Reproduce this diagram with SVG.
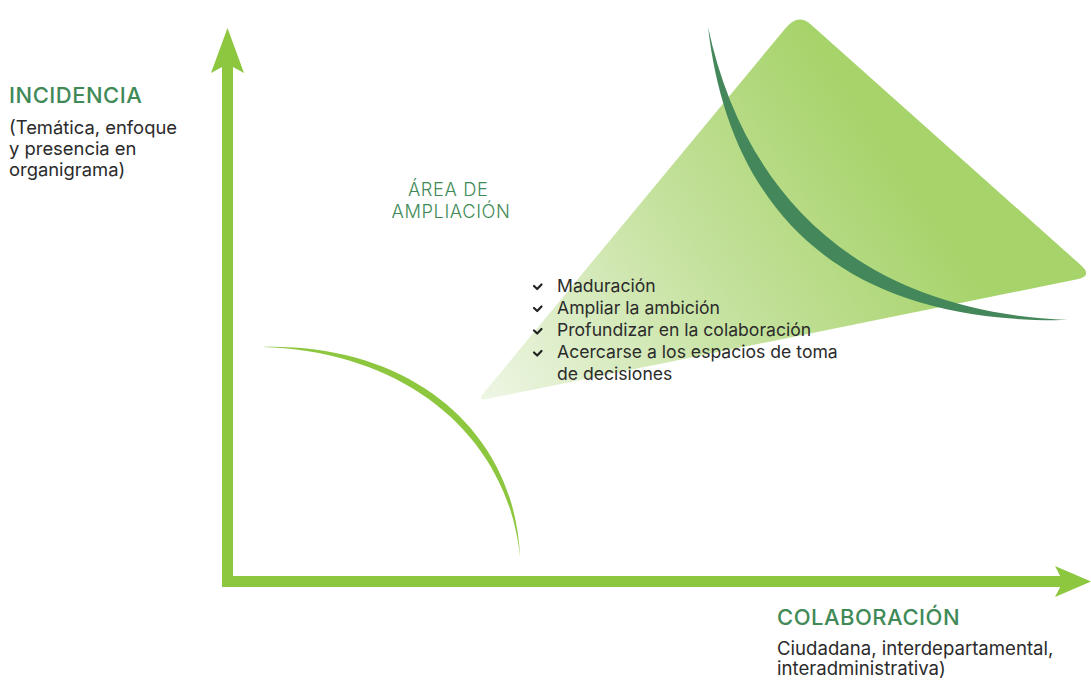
<svg xmlns="http://www.w3.org/2000/svg" width="1091" height="680" viewBox="0 0 1091 680">
  <defs>
    <linearGradient id="triGrad" gradientUnits="userSpaceOnUse" x1="480" y1="400" x2="880" y2="130">
      <stop offset="0" stop-color="#eef6e5"/>
      <stop offset="0.55" stop-color="#c4e19c"/>
      <stop offset="1" stop-color="#a6d36a"/>
    </linearGradient>
    <style>
      .title { font-family: Inter, "Liberation Sans", sans-serif; fill: #3f8a57; font-weight: 500; letter-spacing: 0.5px; }
      .body { font-family: Inter, "Liberation Sans", sans-serif; fill: #2b2b2b; }
      .area { font-family: Inter, "Liberation Sans", sans-serif; fill: #3f8a57; font-weight: 300; letter-spacing: 0.6px; }
      .axis { fill: #8dc63f; }
      .check { fill: none; stroke: #222; stroke-width: 2.2; stroke-linecap: round; stroke-linejoin: round; }
    </style>
  </defs>

  <g id="ampliacion-area">
    <path d="M785.3,28.4 Q798,13 810.9,24.5 L1081,265.3 Q1093,276 1077.3,279.2 L486.8,399 Q477,401 483.4,393.3 Z" fill="url(#triGrad)"/>
  </g>

  <g id="dark-arc">
    <path d="M708,27 C728,200 830,325 1068,320 C848,311 742,185 708,27 Z" fill="#44875a"/>
  </g>

  <g id="light-arc">
    <path d="M262,347 C410,343 515,430 520,557 C508,435 405,351 262,347 Z" fill="#8dc63f"/>
  </g>

  <g id="connectors">
    <rect class="axis" x="222" y="60" width="11" height="527"/>
    <polygon class="axis" points="227.5,28 244,73 227.5,64 211,73"/>
    <rect class="axis" x="222" y="576" width="843" height="11"/>
    <polygon class="axis" points="1091,581.5 1055,566 1063,581.5 1055,597"/>
  </g>

  <g id="label-incidencia">
    <text class="title" x="9" y="103" font-size="22">INCIDENCIA</text>
    <text class="body" font-size="18.4">
      <tspan x="9" y="134">(Temática, enfoque</tspan>
      <tspan x="9" y="155">y presencia en</tspan>
      <tspan x="9" y="176">organigrama)</tspan>
    </text>
  </g>

  <g id="label-area">
    <text class="area" text-anchor="middle" font-size="18.3">
      <tspan x="451" y="195.5">ÁREA DE</tspan>
      <tspan x="451" y="217.5">AMPLIACIÓN</tspan>
    </text>
  </g>

  <g id="checklist">
    <path class="check" d="M534,286 L537.2,289 L541.5,284.5"/>
    <path class="check" d="M534,308 L537.2,311 L541.5,306.5"/>
    <path class="check" d="M534,330.5 L537.2,333.5 L541.5,329"/>
    <path class="check" d="M534,352.5 L537.2,355.5 L541.5,351"/>
    <text class="body" font-size="17.6">
      <tspan x="557" y="291.5">Maduración</tspan>
      <tspan x="557" y="313.5">Ampliar la ambición</tspan>
      <tspan x="557" y="336">Profundizar en la colaboración</tspan>
      <tspan x="557" y="358">Acercarse a los espacios de toma</tspan>
      <tspan x="557" y="380">de decisiones</tspan>
    </text>
  </g>

  <g id="label-colaboracion">
    <text class="title" x="777" y="625" font-size="22">COLABORACIÓN</text>
    <text class="body" font-size="18.6">
      <tspan x="777" y="655">Ciudadana, interdepartamental,</tspan>
      <tspan x="777" y="675">interadministrativa)</tspan>
    </text>
  </g>
</svg>
